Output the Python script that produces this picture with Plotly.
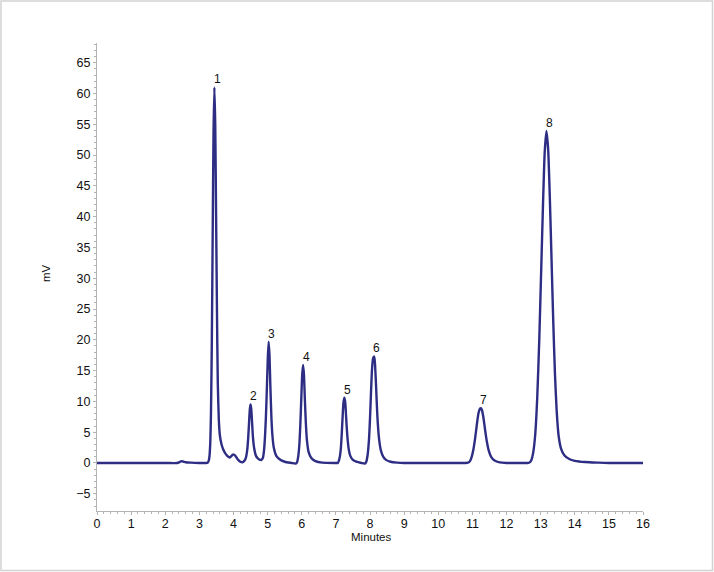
"""
Chromatogram: 8 peaks, mV vs minutes, re-drawn with Plotly.
Trace points are read off the reference picture by eye.
"""

import plotly.graph_objects as go

# detector trace (minutes, mV)
minutes = [
    0.0, 1.0, 2.0, 2.35, 2.42, 2.47, 2.53, 2.6, 2.75, 3.0, 3.2, 3.24,
    # peak 1 + shoulder
    3.27, 3.29, 3.315, 3.34, 3.365, 3.39, 3.415, 3.44, 3.465, 3.49, 3.515,
    3.54, 3.57, 3.6, 3.65, 3.7, 3.78, 3.85, 3.9, 3.95, 4.0, 4.05, 4.12,
    4.2, 4.26,
    # peak 2
    4.31, 4.36, 4.4, 4.43, 4.455, 4.48, 4.5, 4.52, 4.545, 4.57, 4.6, 4.65,
    4.7, 4.76, 4.82,
    # peak 3
    4.86, 4.89, 4.92, 4.95, 4.98, 5.005, 5.03, 5.055, 5.08, 5.11, 5.14,
    5.18, 5.25, 5.35, 5.5, 5.7, 5.82,
    # peak 4
    5.86, 5.9, 5.93, 5.96, 5.99, 6.015, 6.04, 6.065, 6.09, 6.12, 6.15, 6.2,
    6.28, 6.4, 6.6, 7.0,
    # peak 5
    7.06, 7.1, 7.14, 7.17, 7.2, 7.225, 7.25, 7.275, 7.3, 7.33, 7.37, 7.42,
    7.5, 7.6, 7.75, 7.85,
    # peak 6
    7.89, 7.93, 7.97, 8.0, 8.03, 8.06, 8.09, 8.12, 8.14, 8.17, 8.2, 8.23,
    8.27, 8.32, 8.39, 8.47, 8.6, 8.8, 9.0, 10.0, 10.8,
    # peak 7
    10.87, 10.93, 10.98, 11.03, 11.08, 11.13, 11.18, 11.22, 11.25, 11.28,
    11.32, 11.37, 11.42, 11.48, 11.55, 11.65, 11.8, 12.0, 12.4, 12.62,
    # peak 8
    12.68, 12.73, 12.78, 12.84, 12.9, 12.96, 13.02, 13.07, 13.12, 13.17,
    13.22, 13.27, 13.32, 13.37, 13.42, 13.47, 13.53, 13.6, 13.7, 13.85,
    14.0, 14.3, 14.7, 15.0, 16.0,
]
mv = [
    0.0, 0.0, 0.0, 0.0, 0.15, 0.3, 0.22, 0.12, 0.05, 0.0, 0.0, 0.05,
    0.3, 0.8, 2.7, 8.2, 19.8, 37.0, 53.8, 61.0, 55.0, 40.0, 25.0,
    13.0, 7.0, 4.5, 3.0, 2.2, 1.4, 1.0, 0.9, 1.2, 1.4, 1.2, 0.6,
    0.2, 0.1,
    0.3, 0.8, 2.0, 4.0, 6.5, 8.8, 9.5, 8.8, 6.5, 4.2, 2.6, 1.3,
    0.8, 0.55, 0.5,
    0.8, 1.8, 4.0, 7.5, 12.5, 17.0, 19.7, 17.5, 12.5, 7.5, 4.5,
    2.5, 1.2, 0.6, 0.2, 0.0, -0.1,
    0.1, 1.2, 3.0, 6.5, 11.0, 14.5, 15.9, 14.3, 10.5, 6.5, 3.8, 1.8,
    0.8, 0.3, 0.05, 0.0,
    0.0, 0.6, 2.0, 4.5, 7.8, 9.9, 10.6, 9.8, 7.5, 4.8, 2.5, 1.2,
    0.5, 0.2, 0.0, -0.1,
    0.2, 1.3, 3.8, 7.2, 11.5, 15.3, 17.0, 17.3, 16.6, 13.5, 9.5, 6.3,
    3.7, 2.0, 1.0, 0.5, 0.2, 0.05, 0.0, 0.0, 0.0,
    0.05, 0.3, 1.0, 2.2, 4.0, 6.2, 8.1, 8.8, 8.9, 8.6,
    7.5, 5.5, 3.6, 2.0, 1.0, 0.4, 0.1, 0.0, 0.0, 0.0,
    0.1, 0.5, 1.6, 4.5, 10.5, 20.0, 32.0, 42.0, 50.5, 53.9,
    51.0, 43.0, 33.0, 23.0, 14.5, 8.5, 4.3, 2.3, 1.2, 0.6,
    0.35, 0.15, 0.05, 0.0, 0.0,
]

# peak labels and apex positions
peak_labels = ["1", "2", "3", "4", "5", "6", "7", "8"]
peak_times = [3.44, 4.50, 5.03, 6.04, 7.25, 8.11, 11.25, 13.17]
peak_heights = [61.0, 9.5, 19.7, 15.9, 10.6, 17.3, 8.9, 53.9]

x_ticks = list(range(0, 17))
y_ticks = [-5, 0, 5, 10, 15, 20, 25, 30, 35, 40, 45, 50, 55, 60, 65]

W, H = 714, 572
ML, MR, MT, MB = 97, 71, 43, 61
PW, PH = W - ML - MR, H - MT - MB

FONT = "Liberation Sans, Arial, sans-serif"
AXIS_GREY = "#b4b4b4"
TEXT = "#111111"

fig = go.Figure(go.Scatter(
    x=minutes, y=mv, mode="lines",
    line=dict(color="#2d2d84", width=2.4, shape="spline", smoothing=0.6),
    hoverinfo="skip", showlegend=False,
))

for lab, t, h in zip(peak_labels, peak_times, peak_heights):
    fig.add_annotation(x=t, y=h, text=lab, showarrow=False,
                       xanchor="center", yanchor="bottom", xshift=3, yshift=-1,
                       font=dict(family=FONT, size=12, color=TEXT))

# axis titles placed by hand
fig.add_annotation(x=(46 - ML) / PW, y=(H - MB - 273) / PH, xref="paper", yref="paper",
                   xanchor="center", yanchor="middle",
                   text="mV", textangle=-90, showarrow=False,
                   font=dict(family=FONT, size=11.5, color=TEXT))
fig.add_annotation(x=(371 - ML) / PW, y=(H - MB - 537) / PH, xref="paper", yref="paper",
                   xanchor="center", yanchor="middle",
                   text="Minutes", showarrow=False,
                   font=dict(family=FONT, size=11.5, color=TEXT))

# thin grey frame round the whole picture
fig.add_shape(type="rect", xref="paper", yref="paper",
              x0=(1 - ML) / PW, x1=(W - 1.5 - ML) / PW,
              y0=(H - MB - (H - 1.5)) / PH, y1=(H - MB - 1) / PH,
              line=dict(color="#d2d2d2", width=1.5), layer="below")

axis_common = dict(
    showgrid=False, zeroline=False, showline=True, linecolor=AXIS_GREY,
    linewidth=1, ticks="outside", ticklen=3, tickcolor=AXIS_GREY, tickwidth=1,
    tickfont=dict(family=FONT, size=12.5, color=TEXT),
)

fig.update_layout(
    width=W, height=H,
    margin=dict(l=ML, r=MR, t=MT, b=MB),
    paper_bgcolor="white", plot_bgcolor="white",
    xaxis=dict(range=[0, 16], tickvals=x_ticks, ticklabelstandoff=-2,
               minor=dict(dtick=0.2, ticks="outside", ticklen=2,
                          tickcolor=AXIS_GREY),
               **axis_common),
    yaxis=dict(range=[-7.8, 68.2], tickvals=y_ticks,
               minor=dict(dtick=1, ticks="outside", ticklen=2,
                          tickcolor=AXIS_GREY),
               **axis_common),
)

# drop the browser's default 8px body margin so the figure sits at 0,0
fig.write_html("out.html", config={"displayModeBar": False},
               post_script="document.body.style.margin='0';"
                           "document.body.style.overflow='hidden';")
